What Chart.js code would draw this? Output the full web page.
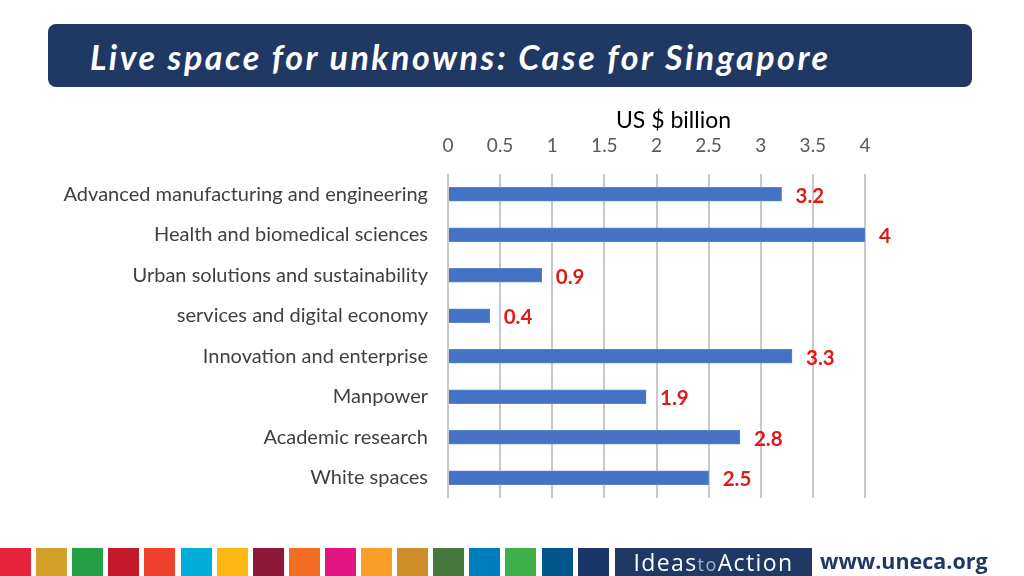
<!DOCTYPE html>
<html>
<head>
<meta charset="utf-8">
<script src="https://cdn.jsdelivr.net/npm/chart.js@4/dist/chart.umd.min.js"></script>
<style>
  html, body { margin: 0; padding: 0; background: #ffffff; }
  body { width: 1024px; height: 576px; position: relative; overflow: hidden; font-family: Lato, "Open Sans", sans-serif; }
  #chart { position: absolute; left: 0; top: 0; }
  #banner { position: absolute; left: 48px; top: 24px; width: 924px; height: 63px; background: #203864; border-radius: 8px; }
  #banner span { position: absolute; left: 42px; top: 12px; color: #ffffff; font-family: Lato, sans-serif; font-weight: 700; font-style: italic; font-size: 34px; white-space: nowrap; letter-spacing: 2.55px; }
  .sq { position: absolute; top: 548px; height: 28px; width: 31px; }
  #ideas { position: absolute; left: 615px; top: 548px; width: 197px; height: 28px; background: #203864; color: #fff; font-family: "Open Sans", sans-serif; font-size: 23px; line-height: 28px; text-align: center; letter-spacing: 1.4px; }
  #ideas .to { color: #9db3d8; font-size: 18px; }
  #uneca { position: absolute; left: 820px; top: 546px; color: #1f3864; font-family: "Open Sans", sans-serif; font-weight: 700; font-size: 21.5px; line-height: 30px; white-space: nowrap; }
</style>
</head>
<body>
<canvas id="chart" width="1024" height="576"></canvas>
<div id="banner"><span>Live space for unknowns: Case for Singapore</span></div>
<div id="footer"></div>
<div id="ideas">Ideas<span class="to">to</span>Action</div>
<div id="uneca">www.uneca.org</div>
<script>
const categories = [
  "Advanced manufacturing and engineering",
  "Health and biomedical sciences",
  "Urban solutions and sustainability",
  "services and digital economy",
  "Innovation and enterprise",
  "Manpower",
  "Academic research",
  "White spaces"
];
const values = [3.2, 4, 0.9, 0.4, 3.3, 1.9, 2.8, 2.5];
const xTicks = [0, 0.5, 1, 1.5, 2, 2.5, 3, 3.5, 4];
const axisTitle = "US $ billion";
const sdgColors = ["#e5243b","#d3a029","#26a046","#c5192d","#ef402b","#00aed9","#fdb713","#8f1838","#f36d25","#e11484","#f99d26","#cf8d2a","#48773e","#007dbc","#3eb049","#02558b","#1a3668"];

const footer = document.getElementById('footer');
sdgColors.forEach((c, i) => {
  const d = document.createElement('div');
  d.className = 'sq';
  d.style.left = Math.round(i * 36.1) + 'px';
  d.style.background = c;
  footer.appendChild(d);
});

const valueLabelPlugin = {
  id: 'valueLabels',
  afterDatasetsDraw(chart) {
    const ctx = chart.ctx;
    const meta = chart.getDatasetMeta(0);
    ctx.save();
    ctx.font = 'bold 20.5px Lato, "Open Sans", sans-serif';
    ctx.fillStyle = '#e01818';
    ctx.textAlign = 'left';
    ctx.textBaseline = 'middle';
    meta.data.forEach((bar, i) => {
      ctx.fillText(String(values[i]), bar.x + 14, bar.y + 2);
    });
    // axis title, slightly right of the plot centre as in the original
    const ca = chart.chartArea;
    ctx.font = '23px Lato, "Open Sans", sans-serif';
    ctx.fillStyle = '#000000';
    ctx.textAlign = 'center';
    ctx.fillText(axisTitle, (ca.left + ca.right) / 2 + 17, 121);
    ctx.restore();
  }
};

new Chart(document.getElementById('chart'), {
  type: 'bar',
  data: {
    labels: categories,
    datasets: [{
      data: values,
      backgroundColor: '#4472c4',
      borderColor: '#5b84cc',
      borderWidth: 1,
      barThickness: 14
    }]
  },
  options: {
    indexAxis: 'y',
    responsive: false,
    animation: false,
    layout: { padding: { left: 0, right: 159, top: 100, bottom: 78 } },
    plugins: { legend: { display: false }, tooltip: { enabled: false } },
    scales: {
      x: {
        position: 'top',
        min: 0,
        max: 4,
        afterBuildTicks: (s) => { s.ticks = xTicks.map(v => ({ value: v })); },
        afterFit: (s) => { s.height = 74; },
        ticks: { color: '#595959', font: { family: 'Lato, "Open Sans", sans-serif', size: 19 }, padding: 17, callback: (v) => String(v) },
        grid: { color: '#c8c8c8', lineWidth: 2, drawTicks: false },
        border: { display: false },
        title: { display: false }
      },
      y: {
        afterFit: (s) => { s.width = 448; },
        grid: { display: false },
        border: { display: false },
        ticks: { color: '#404040', font: { family: 'Lato, "Open Sans", sans-serif', size: 20 }, padding: 12 }
      }
    }
  },
  plugins: [valueLabelPlugin]
});
</script>
</body>
</html>
